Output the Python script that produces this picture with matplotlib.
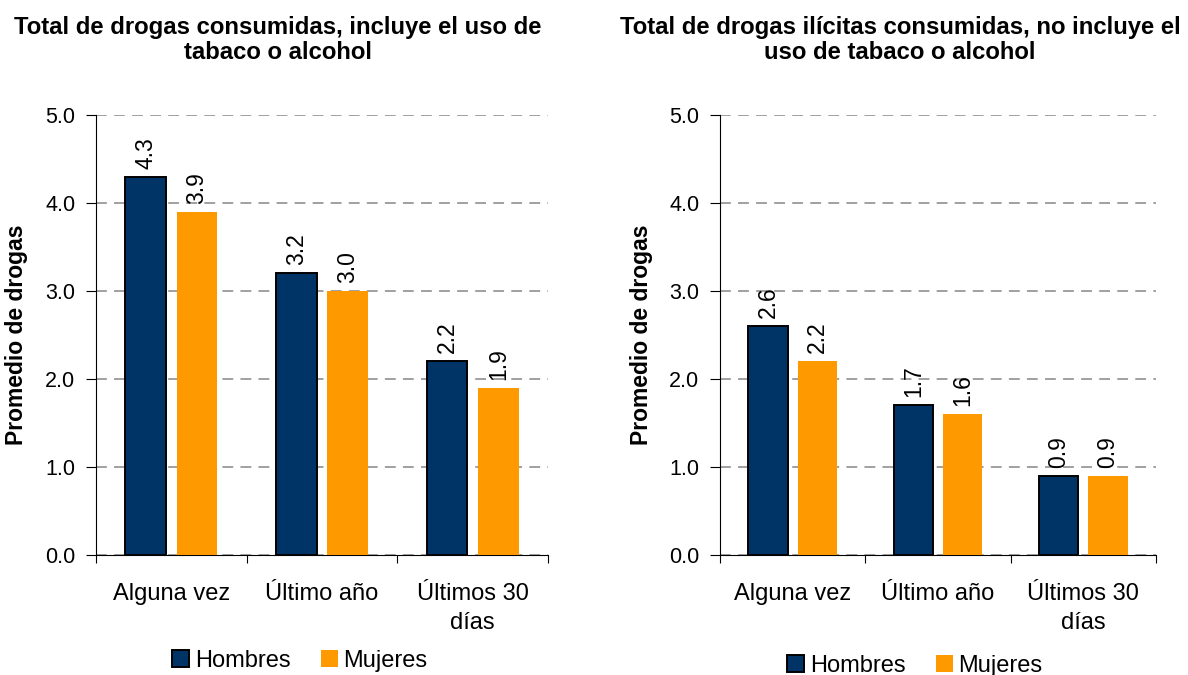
import matplotlib
matplotlib.use('Agg')
import matplotlib.pyplot as plt
import numpy as np
from matplotlib.patches import Patch

plt.rcParams['font.family'] = ['Liberation Sans', 'DejaVu Sans']

categories = ['Alguna vez', 'Último año', 'Últimos 30\ndías']
series = ['Hombres', 'Mujeres']
colors = ['#003366', '#FF9900']

titles = ['Total de drogas consumidas, incluye el uso de\ntabaco o alcohol',
          'Total de drogas ilícitas consumidas, no incluye el\nuso de tabaco o alcohol']
hombres_total = [4.3, 3.2, 2.2]
mujeres_total = [3.9, 3.0, 1.9]
hombres_ilicitas = [2.6, 1.7, 0.9]
mujeres_ilicitas = [2.2, 1.6, 0.9]
y_ticks = [0.0, 1.0, 2.0, 3.0, 4.0, 5.0]

W, H = 1188, 675
fig = plt.figure(figsize=(W / 100, H / 100), dpi=100)
fig.patch.set_facecolor('white')


def px_axes(x0, x1, y_top, y_bot):
    return fig.add_axes([x0 / W, 1 - y_bot / H, (x1 - x0) / W, (y_bot - y_top) / H])


panels = [
    (px_axes(96, 548, 115, 555), hombres_total, mujeres_total, titles[0], 278, 300, 661, -0.150),
    (px_axes(720, 1156, 115, 555), hombres_ilicitas, mujeres_ilicitas, titles[1], 900, 915, 666, -0.154),
]

x = np.arange(len(categories))
bw = 0.27
for ax, hom, muj, title, tx, lx, ly, ylx in panels:
    b1 = ax.bar(x - 0.17, hom, bw, color=colors[0], edgecolor='black', linewidth=1.4, zorder=3)
    b2 = ax.bar(x + 0.17, muj, bw, color=colors[1], edgecolor='none', zorder=3)
    for bars, vals in ((b1, hom), (b2, muj)):
        for r, v in zip(bars, vals):
            ax.text(r.get_x() + r.get_width() / 2, v + 0.09, f'{v:.1f}', rotation=90,
                    ha='center', va='bottom', fontsize=16.5)

    ax.set_xlim(-0.5, len(categories) - 0.5)
    ax.set_ylim(0, 5)
    ax.set_yticks(y_ticks)
    ax.set_yticklabels([f'{t:.1f}' for t in y_ticks], fontsize=15.5)
    ax.yaxis.grid(True, color='#999999', linestyle=(0, (6, 4)), linewidth=1.3, zorder=0)
    ax.set_axisbelow(True)

    # category labels sit between the boundary ticks
    ax.set_xticks(np.arange(len(categories) + 1) - 0.5)
    ax.set_xticklabels([])
    ax.set_xticks(x, minor=True)
    ax.set_xticklabels(categories, minor=True, fontsize=17, linespacing=1.4)
    ax.tick_params(axis='x', which='minor', length=0, pad=20)
    ax.tick_params(axis='x', which='major', length=6, direction='out')
    ax.tick_params(axis='y', length=7, direction='out', pad=8)

    for s in ('top', 'right'):
        ax.spines[s].set_visible(False)

    ax.set_ylabel('Promedio de drogas', fontsize=16.5, fontweight='bold')
    ax.yaxis.set_label_coords(ylx, 0.5)

    fig.text(tx / W, 1 - 40 / H, title, ha='center', va='center', fontsize=17.2,
             fontweight='bold', linespacing=1.15)

    handles = [Patch(facecolor=colors[0], edgecolor='black', linewidth=1.4),
               Patch(facecolor=colors[1], edgecolor='none')]
    fig.legend(handles, series, loc='center', bbox_to_anchor=(lx / W, 1 - ly / H),
               ncol=2, frameon=False, fontsize=17, handlelength=0.7, handleheight=0.7,
               handletextpad=0.25, columnspacing=1.3)

fig.savefig('out.png', dpi=100, facecolor='white')
